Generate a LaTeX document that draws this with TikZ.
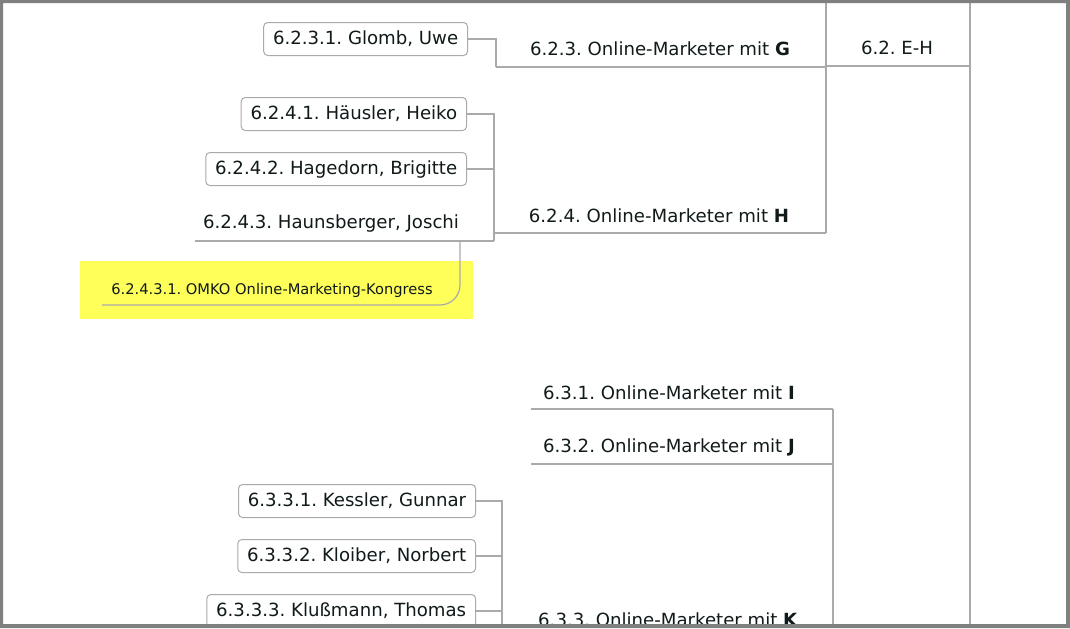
\documentclass[tikz,border=0pt]{standalone}
\usepackage{fontspec}
\setmainfont{DejaVu Sans}
\frenchspacing
\definecolor{linegray}{HTML}{AAAAAA}
\definecolor{bordergray}{HTML}{808080}
\definecolor{hlyellow}{HTML}{FFFF5A}
\definecolor{txt}{HTML}{111A1A}
\begin{document}
\begin{tikzpicture}[x=0.75pt,y=-0.75pt,
  lbl/.style={font=\fontsize{13.6}{16}\selectfont, text=txt, inner sep=0pt},
  smalllbl/.style={font=\fontsize{11}{13}\selectfont, text=txt, inner sep=0pt},
  boxed/.style={font=\fontsize{13.6}{16}\selectfont, text=txt, draw=linegray, line width=0.75pt, fill=white,
    rounded corners=3pt, inner xsep=7pt, minimum height=24.75pt, anchor=east},
  conn/.style={draw=linegray, line width=0.9pt}]
\useasboundingbox (0,0) rectangle (1070,628);
\begin{scope}
\clip (3,3) rectangle (1066,624);
% coordinates
\coordinate (top970) at (970,0);
\coordinate (bot970) at (970,628);
\coordinate (top826) at (826,0);
\coordinate (j826) at (826,66);
\coordinate (e62) at (970,66);
\coordinate (u623l) at (496,67);
\coordinate (u623r) at (826,67);
\coordinate (b623) at (496,39);
\coordinate (b624top) at (494,114);
\coordinate (b624mid) at (494,169);
\coordinate (b624bot) at (494,241);
\coordinate (u6243l) at (195,241);
\coordinate (u624l) at (494,233);
\coordinate (u624r) at (826,233);
\coordinate (c62431a) at (460,241);
\coordinate (c62431b) at (460,305);
\coordinate (c62431c) at (102,305);
\coordinate (u631l) at (531,409);
\coordinate (u631r) at (833,409);
\coordinate (u632l) at (531,464);
\coordinate (u632r) at (833,464);
\coordinate (bot833) at (833,628);
\coordinate (b633mid) at (502,556);
\coordinate (b633bot) at (502,628);

% highlight
\fill[hlyellow] (80,261) rectangle (473,319);

% lines
\draw[conn] (top970) -- (bot970);
\draw[conn] (j826) -- (e62);
\draw[conn] (top826) -- (u624r);
\draw[conn] (u623l) -- (u623r);
\draw[conn] (u624l) -- (u624r);
\draw[conn] (u6243l) -- (b624bot);
\draw[conn, rounded corners=15pt] (c62431a) -- (c62431b) -- (c62431c);
\draw[conn] (u631l) -- (u631r);
\draw[conn] (u632l) -- (u632r);
\draw[conn] (u631r) -- (bot833);

% nodes
\node[boxed] (n6231) at (468,39) {6.2.3.1. Glomb, Uwe};
\node[lbl] (n623) at (660,49) {6.2.3. Online-Marketer mit \textbf{G}};
\node[lbl] (n62) at (897,48) {6.2. E-H};
\node[boxed] (n6241) at (467,114) {6.2.4.1. Häusler, Heiko};
\node[boxed] (n6242) at (467,169) {6.2.4.2. Hagedorn, Brigitte};
\node[lbl] (n6243) at (331,223) {6.2.4.3. Haunsberger, Joschi};
\node[lbl] (n624) at (659,216) {6.2.4. Online-Marketer mit \textbf{H}};
\node[smalllbl] (n62431) at (272,290) {6.2.4.3.1. OMKO Online-Marketing-Kongress};
\node[lbl] (n631) at (669,393) {6.3.1. Online-Marketer mit \textbf{I}};
\node[lbl] (n632) at (669,447) {6.3.2. Online-Marketer mit \textbf{J}};
\node[boxed] (n6331) at (476,501) {6.3.3.1. Kessler, Gunnar};
\node[boxed] (n6332) at (476,556) {6.3.3.2. Kloiber, Norbert};
\node[boxed] (n6333) at (476,611) {6.3.3.3. Klußmann, Thomas};
\node[lbl] (n633) at (668,620) {6.3.3. Online-Marketer mit \textbf{K}};

% connectors from boxes
\draw[conn] (n6231.east) -- (b623) -- (u623l);
\draw[conn] (n6241.east) -- (b624top) -- (b624bot);
\draw[conn] (n6242.east) -- (b624mid);
\draw[conn] (n6331.east) -- (502,501) -- (b633bot);
\draw[conn] (n6332.east) -- (b633mid);
\draw[conn] (n6333.east) -- (502,611);
\end{scope}
\fill[bordergray, even odd rule] (0,0) rectangle (1070,628) (3,3) rectangle (1066,624);
\end{tikzpicture}
\end{document}
